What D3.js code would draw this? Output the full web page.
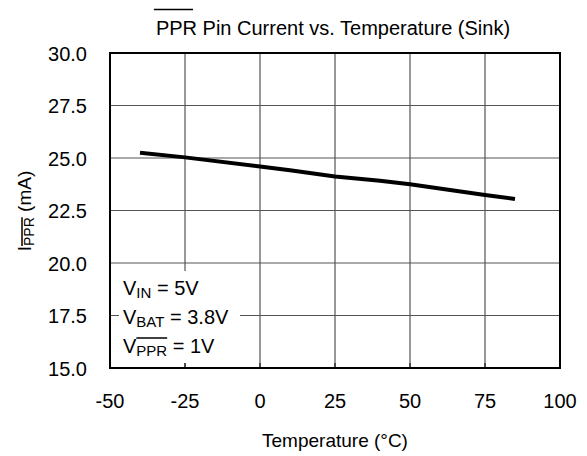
<!DOCTYPE html>
<html>
<head>
<meta charset="utf-8">
<script src="https://cdn.jsdelivr.net/npm/d3@7"></script>
<style>
  body { margin: 0; background: #fff; }
  text { font-family: "Liberation Sans", Arial, sans-serif; fill: #000; }
</style>
</head>
<body>
<div id="chart"></div>
<script>
// values
var temps = [-40, -25, 0, 10, 25, 40, 50, 75, 85];
var current = [25.25, 25.03, 24.6, 24.42, 24.12, 23.92, 23.75, 23.24, 23.05];
var xTicks = [-50, -25, 0, 25, 50, 75, 100];
var yTicks = [15.0, 17.5, 20.0, 22.5, 25.0, 27.5, 30.0];
var notes = [["V", "IN", " = 5V", false], ["V", "BAT", " = 3.8V", false], ["V", "PPR", " = 1V", true]];

var width = 587, height = 456;
var pLeft = 110, pRight = 560, pTop = 53, pBottom = 368;

var svg = d3.select("#chart").append("svg")
	.attr("width", width).attr("height", height);

var x = d3.scaleLinear().domain([-50, 100]).range([pLeft, pRight]);
var y = d3.scaleLinear().domain([15, 30]).range([pBottom, pTop]);

// grid
svg.append("g").selectAll("line").data(xTicks.slice(1, -1)).enter().append("line")
	.attr("x1", function(d){ return x(d); }).attr("x2", function(d){ return x(d); })
	.attr("y1", pTop).attr("y2", pBottom)
	.attr("stroke", "#333").attr("stroke-width", 1);
svg.append("g").selectAll("line").data(yTicks.slice(1, -1)).enter().append("line")
	.attr("x1", pLeft).attr("x2", pRight)
	.attr("y1", function(d){ return y(d); }).attr("y2", function(d){ return y(d); })
	.attr("stroke", "#555").attr("stroke-width", 1);

// annotation box hides the grid behind it
svg.append("rect")
	.attr("x", 119).attr("y", 271).attr("width", 121).attr("height", 92)
	.attr("fill", "#fff");

// small inside ticks on the bottom
svg.append("g").selectAll("line").data(xTicks.slice(1, -1)).enter().append("line")
	.attr("x1", function(d){ return x(d); }).attr("x2", function(d){ return x(d); })
	.attr("y1", pBottom - 5).attr("y2", pBottom)
	.attr("stroke", "#000").attr("stroke-width", 1);

// frame
svg.append("rect")
	.attr("x", pLeft).attr("y", pTop).attr("width", pRight - pLeft).attr("height", pBottom - pTop)
	.attr("fill", "none").attr("stroke", "#000").attr("stroke-width", 2);

// data line
var line = d3.line()
	.x(function(d, i){ return x(temps[i]); })
	.y(function(d){ return y(d); });
svg.append("path").datum(current)
	.attr("d", line)
	.attr("fill", "none").attr("stroke", "#000").attr("stroke-width", 4)
	.attr("stroke-linejoin", "round");

// tick labels
svg.append("g").selectAll("text").data(yTicks).enter().append("text")
	.attr("x", pLeft - 23).attr("y", function(d){ return y(d) + 7.5; })
	.attr("text-anchor", "end").style("font-size", "20px")
	.text(function(d){ return d3.format(".1f")(d); });
svg.append("g").selectAll("text").data(xTicks).enter().append("text")
	.attr("x", function(d){ return x(d); }).attr("y", 408)
	.attr("text-anchor", "middle").style("font-size", "20px")
	.text(function(d){ return d; });

// x title
svg.append("text")
	.attr("x", (pLeft + pRight) / 2).attr("y", 447)
	.attr("text-anchor", "middle").style("font-size", "19px")
	.text("Temperature (\u00B0C)");

// chart title, with a bar over PPR
var title = svg.append("text")
	.attr("x", (pLeft + pRight) / 2 - 2).attr("y", 34.5)
	.attr("text-anchor", "middle").style("font-size", "20px")
	.text("PPR Pin Current vs. Temperature (Sink)");
var tb = title.node().getBBox();
var barW = title.node().getSubStringLength(0, 3);
svg.append("line")
	.attr("x1", tb.x - 2).attr("x2", tb.x + barW - 4)
	.attr("y1", 9.5).attr("y2", 9.5)
	.attr("stroke", "#000").attr("stroke-width", 1.5);

// annotation lines
notes.forEach(function(n, i){
	var by = 295 + i * 29;
	var t = svg.append("text").attr("x", 123).attr("y", by).style("font-size", "20px");
	t.append("tspan").text(n[0]);
	t.append("tspan").attr("dy", 3).style("font-size", "15px").text(n[1]);
	t.append("tspan").attr("dy", -3).text(n[2]);
	if(n[3]){
		var sx = t.node().getStartPositionOfChar(1).x;
		var sw = t.node().getSubStringLength(1, n[1].length);
		svg.append("line")
			.attr("x1", sx).attr("x2", sx + sw)
			.attr("y1", by - 15).attr("y2", by - 15)
			.attr("stroke", "#000").attr("stroke-width", 1.5);
	}
});

// y title, rotated
var yl = svg.append("g").attr("transform", "translate(31,211) rotate(-90)");
var yt = yl.append("text").attr("text-anchor", "middle").style("font-size", "19px");
yt.append("tspan").text("I");
yt.append("tspan").attr("dy", 3).style("font-size", "14px").text("PPR");
yt.append("tspan").attr("dy", -3).text(" (mA)");
var ysx = yt.node().getStartPositionOfChar(1).x;
var ysw = yt.node().getSubStringLength(1, 3);
yl.append("line")
	.attr("x1", ysx).attr("x2", ysx + ysw)
	.attr("y1", -9).attr("y2", -9)
	.attr("stroke", "#000").attr("stroke-width", 1.5);
</script>
</body>
</html>
